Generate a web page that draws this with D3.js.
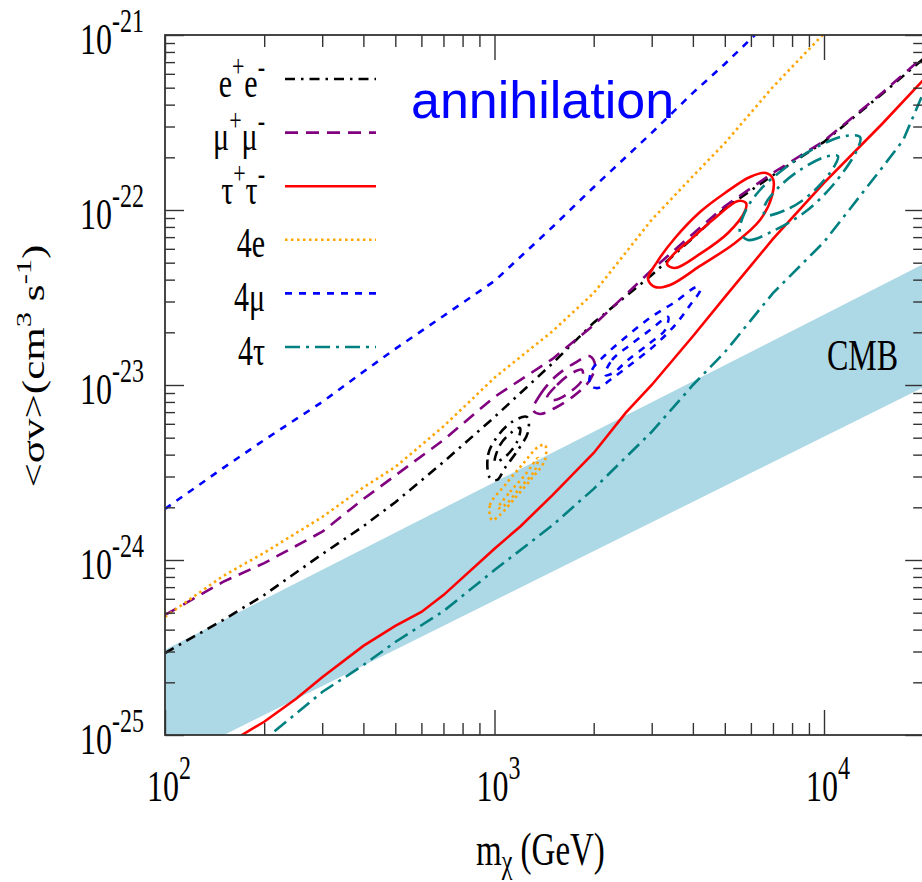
<!DOCTYPE html>
<html>
<head>
<meta charset="utf-8">
<script src="https://cdn.jsdelivr.net/npm/d3@7"></script>
<style>
  html, body { margin: 0; padding: 0; background: #fff; }
  svg { display: block; }
</style>
</head>
<body>
<svg id="chart" width="922" height="882"></svg>
<script>
// ---- upper limits on <sigma v> (cm^3 s^-1) versus DM mass (GeV) ----
const massGrid = [100, 150, 200, 300, 400, 500, 700, 1000, 1500, 2000, 3000, 4000, 5000, 7000, 10000, 15000, 20000];
const limitEE   = [2.94e-25, 4.54e-25, 6.31e-25, 1.08e-24, 1.56e-24, 2.14e-24, 3.63e-24, 6.56e-24, 1.33e-23, 2.27e-23, 4.25e-23, 6.93e-23, 1.02e-22, 1.58e-22, 2.45e-22, 4.6e-22, 7.3e-22];
const limitMuMu = [4.85e-25, 7.5e-25, 9.6e-25, 1.45e-24, 2.23e-24, 3.04e-24, 4.85e-24, 8.55e-24, 1.41e-23, 2.2e-23, 4.54e-23, 7.3e-23, 1.05e-22, 1.63e-22, 2.48e-22, 4.66e-22, 7.5e-22];

const massTauTau  = [171, 200, 250, 300, 400, 500, 600, 700, 1000, 1200, 1500, 2000, 2500, 3000, 4000, 5000, 7000, 10000, 15000, 20000];
const limitTauTau = [1.0e-25, 1.19e-25, 1.61e-25, 2.14e-25, 3.23e-25, 4.2e-25, 5.05e-25, 6.3e-25, 1.16e-24, 1.56e-24, 2.35e-24, 4.09e-24, 6.93e-24, 1.0e-23, 1.9e-23, 3.18e-23, 6.83e-23, 1.43e-22, 3.1e-22, 5.53e-22];

const mass4E  = [100, 150, 200, 300, 400, 500, 700, 1000, 1500, 2000, 3000, 4000, 5000, 7000, 9900];
const limit4E = [4.73e-25, 8.1e-25, 1.1e-24, 1.76e-24, 2.6e-24, 3.4e-24, 5.8e-24, 1.1e-23, 2.03e-23, 3.35e-23, 8.8e-23, 1.56e-22, 2.41e-22, 5.05e-22, 1.0e-21];

const mass4Mu  = [100, 150, 200, 300, 400, 500, 700, 1000, 1500, 2000, 3000, 4000, 5000, 6170];
const limit4Mu = [1.96e-24, 3.35e-24, 4.85e-24, 8.0e-24, 1.19e-23, 1.61e-23, 2.48e-23, 3.93e-23, 8.0e-23, 1.35e-22, 2.76e-22, 4.67e-22, 6.83e-22, 1.0e-21];

const mass4Tau  = [215, 300, 400, 500, 700, 1000, 1500, 2000, 3000, 4000, 5000, 7000, 10000, 15000, 17400, 20000];
const limit4Tau = [1.05e-25, 1.76e-25, 2.51e-25, 3.4e-25, 5.1e-25, 8.76e-25, 1.58e-24, 2.55e-24, 5.4e-24, 1.0e-23, 1.54e-23, 3.35e-23, 6.56e-23, 1.74e-22, 2.51e-22, 4.66e-22];

// ---- CMB exclusion band (edges) ----
const cmbMass  = [100, 20000];
const cmbUpper = [3.07e-25, 4.9e-23];
const cmbLower = [6.8e-26, 9.7e-24];

// ---- preferred regions (closed contours, [mass, sigma v]) ----
const contourEE = [
  [[969, 2.94e-24], [956, 3.98e-24], [1018, 5.05e-24], [1130, 6.15e-24], [1255, 6.56e-24], [1264, 5.39e-24], [1178, 4.25e-24], [1076, 3.36e-24], [1018, 2.87e-24]],
  [[1004, 3.63e-24], [1039, 4.54e-24], [1130, 5.39e-24], [1195, 5.68e-24], [1170, 4.72e-24], [1084, 3.93e-24]]
];
const contourMuMu = [
  [[1309, 7.2e-24], [1374, 8.77e-24], [1526, 1.11e-23], [1755, 1.34e-23], [1949, 1.46e-23], [2019, 1.3e-23], [1949, 1.068e-23], [1755, 8.77e-24], [1526, 7.39e-24], [1374, 6.83e-24]],
  [[1443, 8.43e-24], [1548, 1.0e-23], [1718, 1.17e-23], [1843, 1.22e-23], [1843, 1.068e-23], [1695, 9.12e-24], [1526, 8.21e-24]]
];
const contourTauTau = [
  [[2924, 4.03e-23], [3069, 3.63e-23], [3410, 3.73e-23], [4205, 4.79e-23], [5369, 6.48e-23], [6394, 8.77e-23], [6953, 1.202e-22], [7002, 1.503e-22], [6668, 1.627e-22], [5962, 1.544e-22], [5006, 1.251e-22], [4205, 9.74e-23], [3531, 6.92e-23], [3113, 5.04e-23]],
  [[3339, 4.91e-23], [3531, 4.66e-23], [4205, 5.61e-23], [5112, 7.39e-23], [5757, 9.87e-23], [5797, 1.096e-22], [5483, 1.126e-22], [4670, 9.0e-23], [3920, 6.74e-23], [3457, 5.46e-23]]
];
const contour4E = [
  [[983, 1.69e-24], [969, 2.06e-24], [1076, 2.68e-24], [1212, 3.49e-24], [1355, 4.42e-24], [1423, 4.54e-24], [1423, 3.73e-24], [1300, 2.94e-24], [1154, 2.26e-24], [1039, 1.81e-24]],
  [[1025, 1.98e-24], [1114, 2.45e-24], [1238, 3.06e-24], [1355, 3.83e-24], [1327, 3.27e-24], [1195, 2.58e-24], [1076, 2.06e-24]]
];
const contour4Mu = [
  [[1949, 1.0e-23], [1977, 1.22e-23], [2165, 1.48e-23], [2489, 1.86e-23], [2965, 2.42e-23], [3531, 2.98e-23], [4118, 3.63e-23], [4205, 3.49e-23], [3920, 2.86e-23], [3531, 2.2e-23], [3069, 1.69e-23], [2578, 1.3e-23], [2242, 1.068e-23], [2061, 9.61e-24]],
  [[2165, 1.14e-23], [2273, 1.39e-23], [2578, 1.69e-23], [2965, 2.06e-23], [3363, 2.45e-23], [3293, 2.06e-23], [2965, 1.74e-23], [2542, 1.39e-23], [2289, 1.17e-23]]
];
const contour4Tau = [
  [[5559, 7.49e-23], [5879, 6.74e-23], [7101, 7.69e-23], [8756, 9.74e-23], [10649, 1.389e-22], [12597, 2.202e-22], [12864, 2.613e-22], [11579, 2.648e-22], [9391, 2.261e-22], [7615, 1.738e-22], [6394, 1.301e-22], [5757, 9.74e-23]],
  [[6621, 9.36e-23], [7886, 1.027e-22], [9391, 1.301e-22], [10799, 1.807e-22], [11027, 2.035e-22], [10070, 2.009e-22], [8456, 1.693e-22], [7251, 1.336e-22], [6621, 1.068e-22]]
];

// ---- axis ticks and text ----
const xMajorTicks = [100, 1000, 10000];
const xTickExponents = ["2", "3", "4"];
const yMajorTicks = [1e-25, 1e-24, 1e-23, 1e-22, 1e-21];
const yTickExponents = ["-25", "-24", "-23", "-22", "-21"];
const legendLabels = [["e", "+", "e", "-"], ["μ", "+", "μ", "-"], ["τ", "+", "τ", "-"], ["4e"], ["4μ"], ["4τ"]];

// ---- drawing ----
const SERIF = "'Liberation Serif', 'Times New Roman', serif";
const SY = 1.39;              // tall, narrow lettering of the serif text
const svg = d3.select("#chart");

const plot = { left: 165, top: 35, bottom: 735 };
const x = d3.scaleLog().domain([100, 20000]).range([plot.left, plot.left + 329.5 * Math.log10(200)]);
const y = d3.scaleLog().domain([1e-25, 1e-21]).range([plot.bottom, plot.top]);
const plotW = x.range()[1] - plot.left;
const plotH = plot.bottom - plot.top;

svg.append("defs").append("clipPath").attr("id", "plotClip")
  .append("rect").attr("x", plot.left).attr("y", plot.top).attr("width", plotW).attr("height", plotH);

const inner = svg.append("g").attr("clip-path", "url(#plotClip)");

// CMB band
const band = d3.area()
  .x((d, i) => x(cmbMass[i]))
  .y0((d, i) => y(cmbLower[i]))
  .y1((d, i) => y(cmbUpper[i]));
inner.append("path").datum(cmbMass).attr("d", band).attr("fill", "#add8e6");

const styles = [
  { color: "#000000", dash: "10,6,2.5,6" },   // e+e-
  { color: "#800080", dash: "13,8" },         // mu+mu-
  { color: "#ff0000", dash: null },           // tau+tau-
  { color: "#ffa500", dash: "2.5,3.5" },      // 4e
  { color: "#0000ff", dash: "7,7" },          // 4mu
  { color: "#008080", dash: "15,6,3,6" }      // 4tau
];

const zip = (a, b) => a.map((v, i) => [v, b[i]]);
const limitLines = [
  zip(massGrid, limitEE),
  zip(massGrid, limitMuMu),
  zip(massTauTau, limitTauTau),
  zip(mass4E, limit4E),
  zip(mass4Mu, limit4Mu),
  zip(mass4Tau, limit4Tau)
];
const contours = [contourEE, contourMuMu, contourTauTau, contour4E, contour4Mu, contour4Tau];

const line = d3.line().x(d => x(d[0])).y(d => y(d[1]));
const loop = d3.line().x(d => x(d[0])).y(d => y(d[1])).curve(d3.curveCatmullRomClosed.alpha(0.5));

function styled(sel, i) {
  sel.attr("fill", "none").attr("stroke", styles[i].color).attr("stroke-width", 2.6);
  if (styles[i].dash) sel.attr("stroke-dasharray", styles[i].dash);
  return sel;
}

limitLines.forEach((pts, i) => {
  styled(inner.append("path").datum(pts).attr("d", line), i);
});
contours.forEach((set, i) => {
  set.forEach(ring => styled(inner.append("path").datum(ring).attr("d", loop), i));
});

// ticks on all four sides, pointing inward
const xMinor = [], yMinor = [];
for (let d = 100; d <= 10000; d *= 10) for (let k = 2; k <= 9; k++) if (d * k <= 20000) xMinor.push(d * k);
xMinor.push(20000);
for (let d = 1e-25; d < 1e-21; d *= 10) for (let k = 2; k <= 9; k++) yMinor.push(d * k);

const axisLayer = svg.append("g").attr("class", "axes");
function tickAxis(axis, tx, ty) {
  const g = axisLayer.append("g").attr("transform", `translate(${tx},${ty})`).call(axis);
  g.select(".domain").remove();
  g.selectAll("line").attr("stroke", "#333").attr("stroke-width", 1.4);
  g.selectAll("text").remove();
}
tickAxis(d3.axisBottom(x).tickValues(xMinor).tickSize(-12).tickFormat(""), 0, plot.bottom);
tickAxis(d3.axisBottom(x).tickValues(xMajorTicks).tickSize(-25).tickFormat(""), 0, plot.bottom);
tickAxis(d3.axisTop(x).tickValues(xMinor).tickSize(-12).tickFormat(""), 0, plot.top);
tickAxis(d3.axisTop(x).tickValues(xMajorTicks).tickSize(-25).tickFormat(""), 0, plot.top);
tickAxis(d3.axisLeft(y).tickValues(yMinor).tickSize(-10).tickFormat(""), plot.left, 0);
tickAxis(d3.axisLeft(y).tickValues(yMajorTicks).tickSize(-19).tickFormat(""), plot.left, 0);
tickAxis(d3.axisRight(y).tickValues(yMinor).tickSize(-10).tickFormat(""), plot.left + plotW, 0);
tickAxis(d3.axisRight(y).tickValues(yMajorTicks).tickSize(-18).tickFormat(""), plot.left + plotW, 0);

// frame
axisLayer.append("rect")
  .attr("x", plot.left).attr("y", plot.top).attr("width", plotW).attr("height", plotH)
  .attr("fill", "none").attr("stroke", "#333").attr("stroke-width", 1.8);

// text helpers
function serifText(px, py, size, anchor, rotate) {
  const tf = rotate
    ? `translate(${px},${py}) rotate(-90) scale(${SY},1)`
    : `translate(${px},${py}) scale(1,${SY})`;
  return svg.append("text")
    .attr("transform", tf)
    .attr("text-anchor", anchor)
    .attr("font-family", SERIF)
    .attr("font-size", size)
    .attr("fill", "#000");
}
function sup(t, str, size, rise) {
  t.append("tspan").attr("dy", -rise).attr("font-size", size).text(str);
}
function base(t, str, size, drop) {
  t.append("tspan").attr("dy", drop).attr("font-size", size).text(str);
}

// tick labels
yMajorTicks.forEach((v, i) => {
  const t = serifText(144, y(v) + 19, 32, "end");
  t.append("tspan").text("10");
  sup(t, yTickExponents[i], 24, 15.5);
});
xMajorTicks.forEach((v, i) => {
  const t = serifText(x(v) + 4, 801, 32, "middle");
  t.append("tspan").text("10");
  sup(t, xTickExponents[i], 24, 15.5);
});

// axis titles
{
  const t = serifText(476, 865, 33, "start");
  t.append("tspan").text("m");
  base(t, "χ", 24, 6);
  base(t, " (GeV)", 33, -6);
}
{
  const t = serifText(44, 366, 31, "middle", true);
  t.append("tspan").text("<σv>(cm");
  sup(t, "3", 22, 13);
  base(t, " s", 31, 13);
  sup(t, "-1", 22, 13);
  base(t, ")", 31, 13);
}

// legend
const legendTop = 79, legendStep = 53.6;
legendLabels.forEach((parts, i) => {
  const ly = legendTop + i * legendStep;
  const t = serifText(265, ly + 17.5, 30, "end");
  if (parts.length === 1) {
    t.append("tspan").text(parts[0]);
  } else {
    t.append("tspan").text(parts[0]);
    sup(t, parts[1], 22, 14);
    base(t, parts[2], 30, 14);
    sup(t, parts[3], 22, 14);
  }
  const s = svg.append("line").attr("x1", 285).attr("x2", 376).attr("y1", ly).attr("y2", ly);
  styled(s, i);
});

// band label and panel title
serifText(827, 370, 32, "start").text("CMB");
svg.append("text")
  .attr("x", 411).attr("y", 118)
  .attr("font-family", "'Liberation Sans', Arial, sans-serif")
  .attr("font-size", 52)
  .attr("fill", "#0000ff")
  .text("annihilation");
</script>
</body>
</html>
